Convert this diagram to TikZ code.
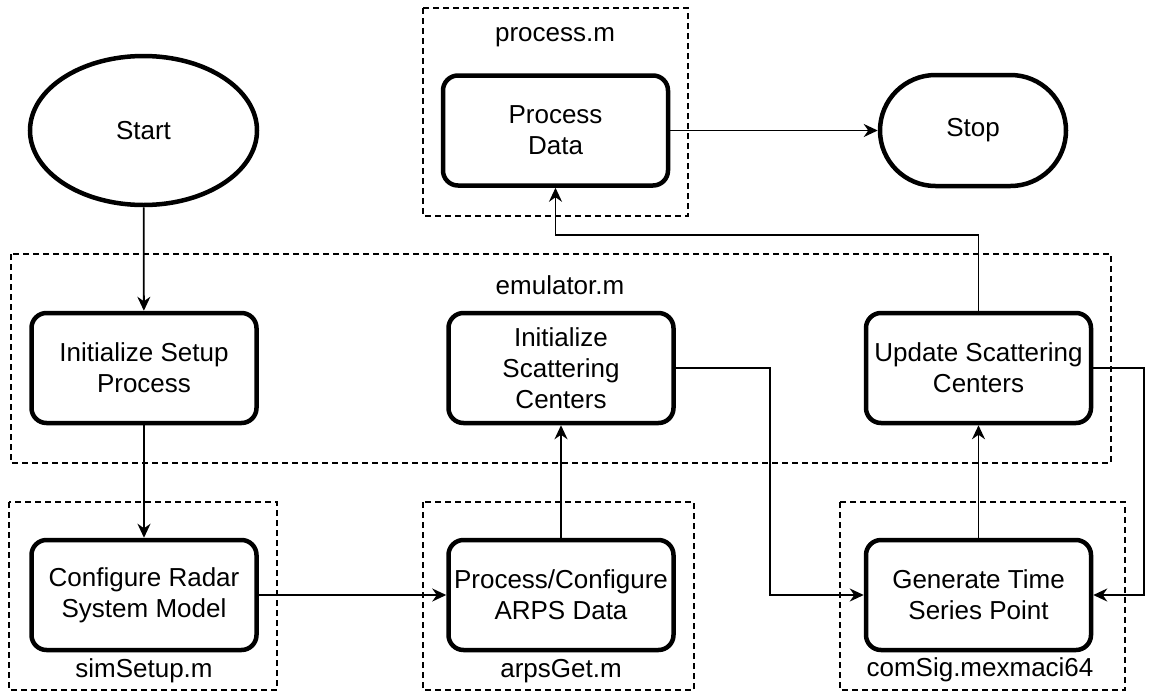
\documentclass[tikz,border=0pt]{standalone}
\usepackage{fontspec}
\setmainfont{Liberation Sans}
\usetikzlibrary{shapes.geometric,shapes.misc,arrows.meta}
\tikzstyle{every node}=[font=\fontsize{26}{31}\selectfont,align=center,inner sep=2pt]
\tikzstyle{proc}=[draw=black,line width=4.5pt,rounded corners=15pt,minimum width=225pt,minimum height=110pt]
\tikzstyle{term}=[draw=black,line width=4.5pt]
\tikzstyle{module}=[draw=black,line width=1.5pt,dash pattern=on 6pt off 4pt]
\tikzstyle{flow}=[line width=1.8pt,-{Stealth[length=14pt,width=13pt,inset=4.5pt]}]

\begin{document}
\begin{tikzpicture}[x=1pt,y=-1pt]
	\useasboundingbox (0,0) rectangle (1151,691);
	% file containers
	\draw[module] (423,8) rectangle (688,216);
	\draw[module] (11,254) rectangle (1111,463);
	\draw[module] (9,502) rectangle (277,690);
	\draw[module] (423,502) rectangle (694,690);
	\draw[module] (840,502) rectangle (1125,690);
	\node (lblprocess) at (555,37) {process.m};
	\node (lblemulator) at (560,285) {emulator.m};
	\node (lblsimsetup) at (144,671) {simSetup.m};
	\node (lblarpsget) at (561,671) {arpsGet.m};
	\node (lblcomsig) at (980,670) {comSig.mexmaci64};
	% steps
	\node (start) at (143.5,130.5) [term,ellipse,minimum width=227pt,minimum height=149pt] {Start};
	\node (stop) at (973,130.5) [term,rounded rectangle,minimum width=190pt,minimum height=111pt] {Stop};
	\node (procdata) at (555.5,130.5) [proc] {Process\\Data};
	\node (initsetup) at (144,368) [proc] {Initialize Setup\\Process};
	\node (initscat) at (561,368) [proc] {Initialize\\Scattering\\Centers};
	\node (update) at (978.5,368) [proc] {Update Scattering\\Centers};
	\node (configure) at (144,595) [proc] {Configure Radar\\System Model};
	\node (procconf) at (561,595) [proc] {Process/Configure\\ARPS Data};
	\node (generate) at (978.5,595) [proc] {Generate Time\\Series Point};
	% connectors
	\draw[flow] (start) -- (initsetup);
	\draw[flow] (initsetup) -- (configure);
	\draw[flow] (configure) -- (procconf);
	\draw[flow] (procconf) -- (initscat);
	\draw[flow] (initscat.east) -- ++(94,0) |- (generate.west);
	\draw[flow] (generate) -- (update);
	\draw[flow] (update.east) -- ++(51,0) |- (generate.east);
	\draw[flow] (update.north) -- ++(0,-76) -| (procdata.south);
	\draw[flow] (procdata) -- (stop);
\end{tikzpicture}
\end{document}
